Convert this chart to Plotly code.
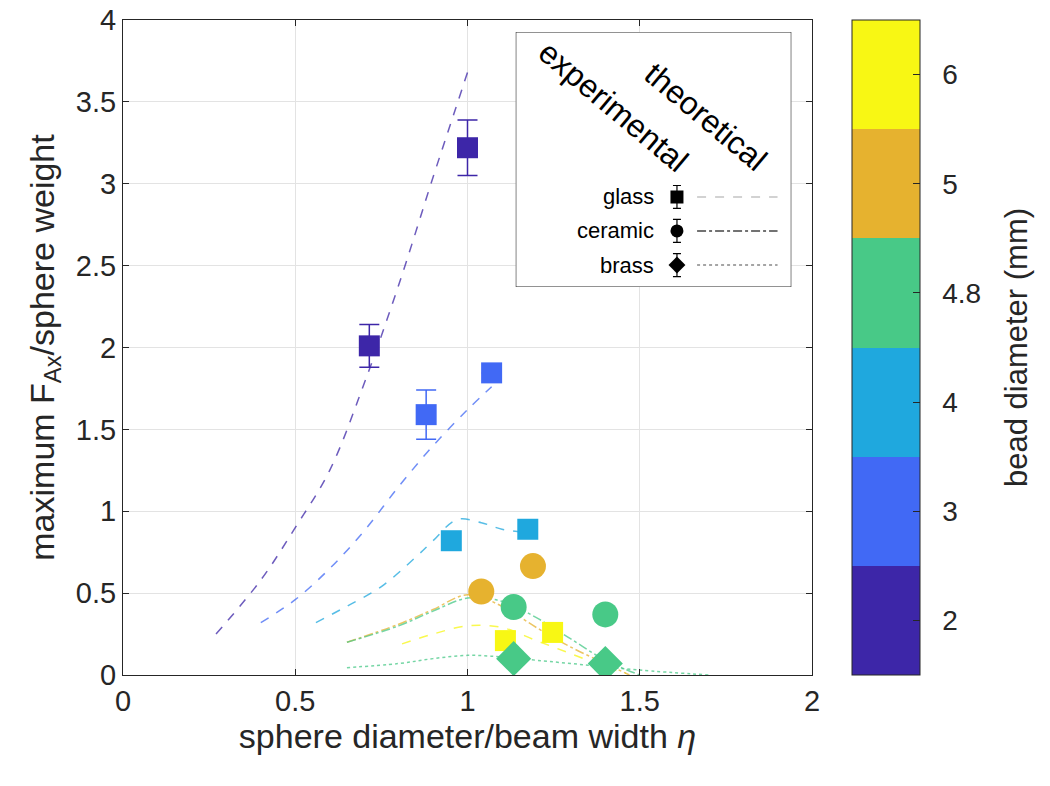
import plotly.graph_objects as go

# ---------------- data ----------------
bead_diameters = [2, 3, 4, 4.8, 5, 6]
bead_labels = ["2", "3", "4", "4.8", "5", "6"]
bead_colors = ["#3d26a8", "#4169f5", "#1fa8de", "#48c987", "#e6b22f", "#f8f714"]

# experimental - glass (squares)
glass_diam = [2, 2, 3, 3, 4, 4, 6, 6]
glass_eta = [0.715, 1.0, 0.88, 1.07, 0.953, 1.175, 1.11, 1.247]
glass_force = [2.01, 3.22, 1.59, 1.845, 0.82, 0.89, 0.21, 0.26]
glass_err = [0.13, 0.17, 0.15, 0.0, 0.0, 0.0, 0.0, 0.0]

# experimental - ceramic (circles)
ceramic_diam = [5, 5, 4.8, 4.8]
ceramic_eta = [1.04, 1.19, 1.134, 1.40]
ceramic_force = [0.51, 0.665, 0.415, 0.37]

# experimental - brass (diamonds)
brass_diam = [4.8, 4.8]
brass_eta = [1.134, 1.40]
brass_force = [0.10, 0.07]

# theoretical curves
th_glass2_x = [0.27, 0.4, 0.5, 0.6, 0.7, 0.8, 0.9, 0.95, 1.0]
th_glass2_y = [0.25, 0.58, 0.90, 1.25, 1.78, 2.38, 3.04, 3.36, 3.68]
th_glass3_x = [0.40, 0.5, 0.6, 0.7, 0.8, 0.9, 1.0, 1.07]
th_glass3_y = [0.32, 0.46, 0.65, 0.88, 1.15, 1.40, 1.62, 1.76]
th_glass4_x = [0.56, 0.65, 0.75, 0.85, 0.90, 0.97, 1.04, 1.10, 1.17]
th_glass4_y = [0.32, 0.42, 0.54, 0.72, 0.82, 0.95, 0.93, 0.89, 0.87]
th_glass6_x = [0.81, 0.9, 1.0, 1.1, 1.2, 1.3, 1.4, 1.46]
th_glass6_y = [0.19, 0.25, 0.30, 0.29, 0.21, 0.13, 0.05, 0.01]
th_ceramic5_x = [0.65, 0.8, 0.9, 1.0, 1.1, 1.2, 1.3, 1.4, 1.47]
th_ceramic5_y = [0.20, 0.31, 0.40, 0.49, 0.42, 0.29, 0.17, 0.07, 0.0]
th_ceramic48_x = [0.65, 0.8, 0.9, 1.0, 1.1, 1.2, 1.3, 1.4, 1.5]
th_ceramic48_y = [0.20, 0.30, 0.39, 0.47, 0.45, 0.35, 0.22, 0.09, 0.0]
th_brass48_x = [0.65, 0.8, 0.9, 1.0, 1.1, 1.2, 1.35, 1.5, 1.7]
th_brass48_y = [0.045, 0.07, 0.10, 0.12, 0.11, 0.09, 0.06, 0.03, 0.0]

x_ticks = [0, 0.5, 1, 1.5, 2]
x_ticklabels = ["0", "0.5", "1", "1.5", "2"]
y_ticks = [0, 0.5, 1, 1.5, 2, 2.5, 3, 3.5, 4]
y_ticklabels = ["0", "0.5", "1", "1.5", "2", "2.5", "3", "3.5", "4"]

legend_names = ["glass", "ceramic", "brass"]
legend_rows = [0.353, 0.22, 0.086]

# ---------------- helpers ----------------
def color_of(d):
    return bead_colors[bead_diameters.index(d)]

n = len(bead_colors)
colorscale = []
for i, c in enumerate(bead_colors):
    colorscale.append([i / n, c])
    colorscale.append([(i + 1) / n, c])

FONT = "Liberation Sans, Arial, sans-serif"
AX = "#262626"
NB = "\u00a0" * 2

fig = go.Figure()

# theoretical curves
theory = [
    (th_glass2_x, th_glass2_y, 2, "dash"),
    (th_glass3_x, th_glass3_y, 3, "dash"),
    (th_glass4_x, th_glass4_y, 4, "dash"),
    (th_glass6_x, th_glass6_y, 6, "dash"),
    (th_ceramic5_x, th_ceramic5_y, 5, "dashdot"),
    (th_ceramic48_x, th_ceramic48_y, 4.8, "dashdot"),
    (th_brass48_x, th_brass48_y, 4.8, "dot"),
]
for tx, ty, d, dash in theory:
    fig.add_trace(go.Scatter(
        x=tx, y=ty, mode="lines", opacity=0.75,
        line=dict(color=color_of(d), width=1.5, dash=dash, shape="spline"),
        showlegend=False, hoverinfo="skip"))

# experimental markers
first = True
for diam, ex, fy, err, sym, size in [
    (glass_diam, glass_eta, glass_force, glass_err, "square", 21),
    (ceramic_diam, ceramic_eta, ceramic_force, [0] * len(ceramic_diam), "circle", 26),
    (brass_diam, brass_eta, brass_force, [0] * len(brass_diam), "diamond", 27),
]:
    for d in bead_diameters:
        idx = [i for i, v in enumerate(diam) if v == d]
        if not idx:
            continue
        ci = bead_diameters.index(d)
        marker = dict(symbol=sym, size=size,
                      color=[ci + 0.5] * len(idx), colorscale=colorscale,
                      cmin=0, cmax=n, line=dict(width=0))
        if first:
            marker.update(showscale=True, colorbar=dict(
                x=1.058, xanchor="left", xpad=0, y=0.5, yanchor="middle",
                ypad=0, len=1, lenmode="fraction", thickness=68,
                thicknessmode="pixels", outlinewidth=1, outlinecolor=AX,
                tickvals=[i + 0.5 for i in range(n)],
                ticktext=[NB + t + NB for t in bead_labels],
                ticks="inside", ticklen=7, tickcolor=AX,
                tickfont=dict(size=28, color=AX, family=FONT),
                title=dict(text="bead diameter (mm)", side="right",
                           font=dict(size=31, color=AX, family=FONT))))
            first = False
        errs = [err[i] for i in idx]
        fig.add_trace(go.Scatter(
            x=[ex[i] for i in idx], y=[fy[i] for i in idx], mode="markers",
            marker=marker,
            error_y=dict(type="data", array=errs, visible=any(e > 0 for e in errs),
                         color=color_of(d), thickness=1.5, width=10),
            showlegend=False, hoverinfo="skip"))

# ---------------- custom legend (on its own small axes) ----------------
fig.add_trace(go.Scatter(
    x=[0, 1, 1, 0, 0], y=[0, 0, 1, 1, 0], xaxis="x2", yaxis="y2",
    mode="lines", fill="toself", fillcolor="white",
    line=dict(color=AX, width=1.2), showlegend=False, hoverinfo="skip"))
for name, yv, sym, dash, lc in zip(legend_names, legend_rows,
                                   ["square", "circle", "diamond"],
                                   ["dash", "dashdot", "dot"],
                                   ["#c4c4c4", "#444444", "#888888"]):
    fig.add_trace(go.Scatter(
        x=[0.658, 0.95], y=[yv, yv], xaxis="x2", yaxis="y2", mode="lines",
        line=dict(color=lc, width=1.5, dash=dash), showlegend=False, hoverinfo="skip"))
    fig.add_trace(go.Scatter(
        x=[0.585], y=[yv], xaxis="x2", yaxis="y2", mode="markers",
        marker=dict(symbol=sym, size=13, color="black"),
        error_y=dict(type="data", array=[0.045], color="black", thickness=1.2, width=4),
        showlegend=False, hoverinfo="skip"))
    fig.add_annotation(x=0.51, y=yv, xref="x2", yref="y2", text=name,
                       showarrow=False, xanchor="right", yanchor="middle",
                       font=dict(size=22, color="black", family=FONT))

fig.add_annotation(x=0.353, y=0.71, xref="x2", yref="y2", text="experimental",
                   textangle=40, showarrow=False,
                   font=dict(size=32, color="black", family=FONT))
fig.add_annotation(x=0.691, y=0.667, xref="x2", yref="y2", text="theoretical",
                   textangle=40, showarrow=False,
                   font=dict(size=32, color="black", family=FONT))

axis_common = dict(showline=True, linecolor=AX, linewidth=1.2, mirror="ticks",
                   ticks="inside", ticklen=6, tickcolor=AX,
                   showgrid=True, gridcolor="#e3e3e3", gridwidth=1.2,
                   zeroline=False, ticklabeloverflow="allow", automargin=False,
                   tickfont=dict(size=29, color=AX, family=FONT))

fig.update_layout(
    width=1050, height=786,
    margin=dict(l=115, r=246, t=12, b=119, autoexpand=False),
    paper_bgcolor="white", plot_bgcolor="white",
    font=dict(family=FONT, color=AX),
    showlegend=False,
    xaxis=dict(range=[0, 2], tickvals=x_ticks, ticktext=x_ticklabels,
               title=dict(text="sphere diameter/beam width <i>η</i>",
                          font=dict(size=34, color=AX, family=FONT), standoff=6),
               **axis_common),
    yaxis=dict(range=[0, 4], tickvals=y_ticks, ticktext=y_ticklabels,
               title=dict(text="maximum F<sub>Ax</sub>/sphere weight",
                          font=dict(size=34, color=AX, family=FONT), standoff=10),
               **axis_common),
    xaxis2=dict(domain=[0.570, 0.970], range=[0, 1], visible=False,
                anchor="y2", fixedrange=True),
    yaxis2=dict(domain=[0.5924, 0.9817], range=[0, 1], visible=False,
                anchor="x2", fixedrange=True),
)

fig.write_html("out.html")
